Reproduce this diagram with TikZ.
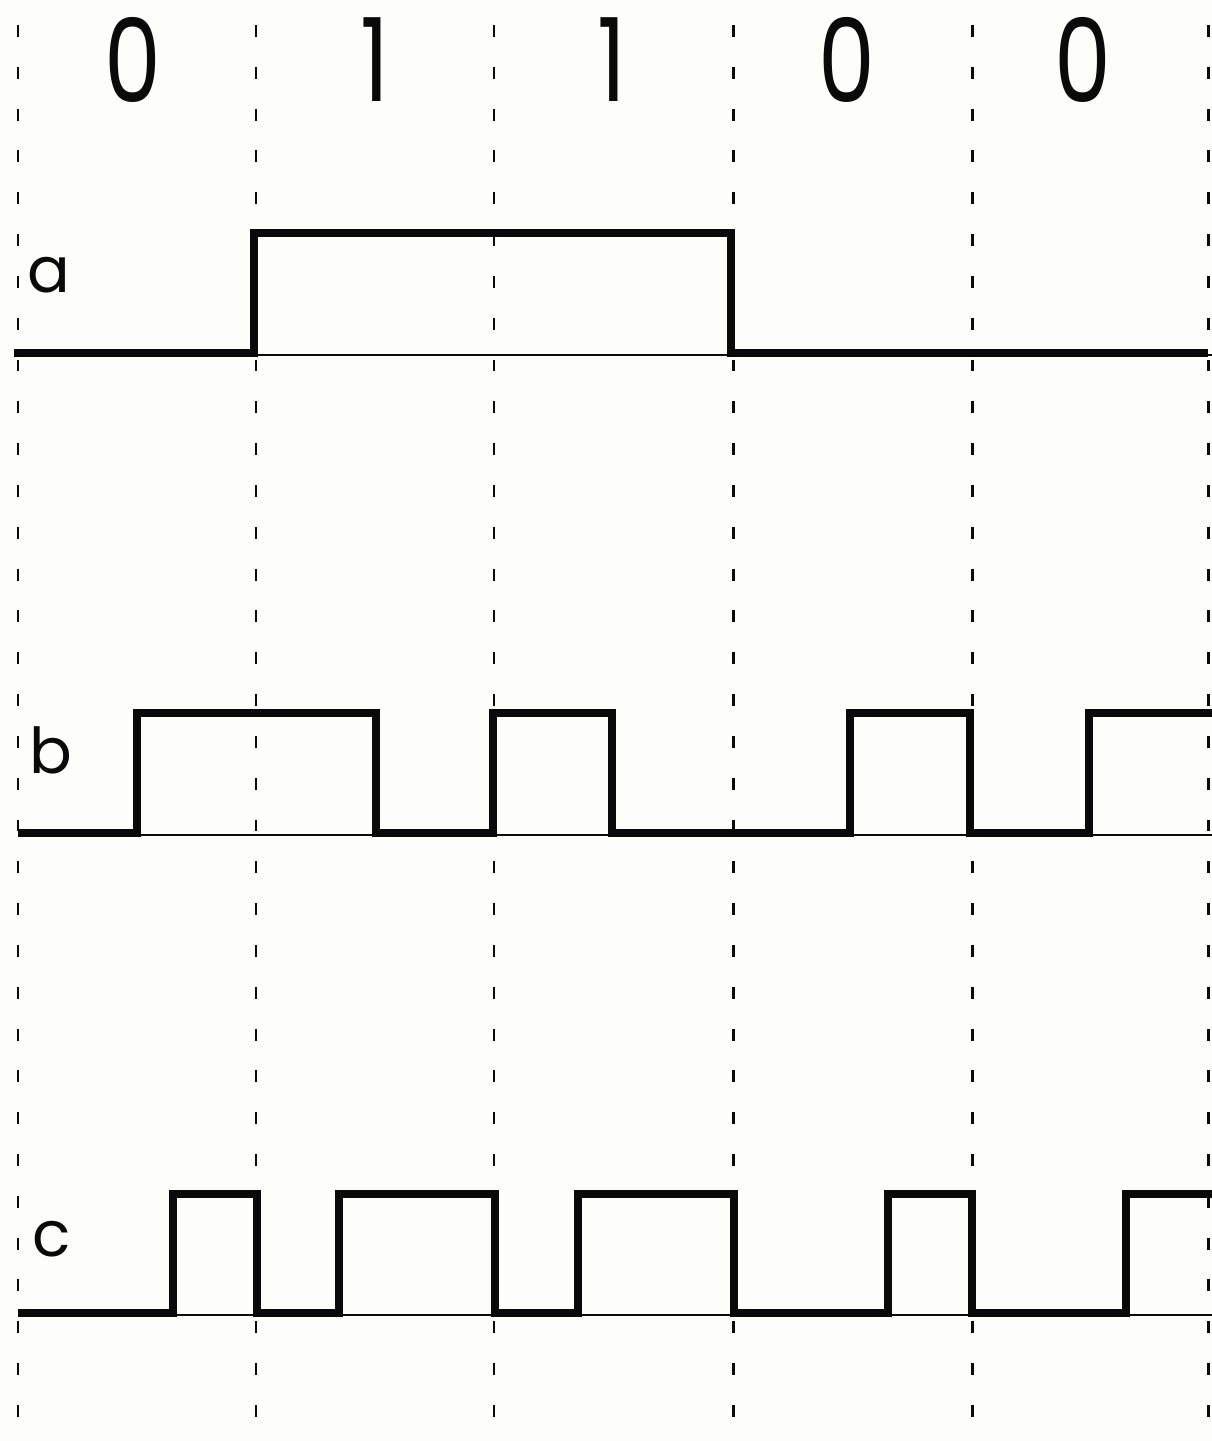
\documentclass[tikz,border=0pt]{standalone}
\usepackage{fontspec}
\setmainfont{Poppins}
\definecolor{bgcol}{RGB}{253,253,250}
\definecolor{ink}{RGB}{10,10,10}
\newcommand{\narrowdigit}[1]{\scalebox{0.78}[1]{#1}}
\begin{document}
\begin{tikzpicture}[x=0.02cm,y=-0.02cm,
  gridline/.style={ink, line width=1.7pt, dash pattern=on 6.8pt off 17pt},
  wave/.style={ink, line width=4.6pt, line join=miter},
  baseline/.style={ink, line width=1.1pt},
  digit/.style={font=\fontsize{66}{66}\selectfont, inner sep=0pt, text=ink},
  lbl/.style={font=\fontsize{36}{36}\selectfont, inner sep=0pt, text=ink}]
\fill[bgcol] (0,0) rectangle (1212,1441);
\useasboundingbox (0,0) rectangle (1212,1441);
% dashed bit boundaries
\foreach \gx/\gn in {18/g0,256/g1,494/g2,733/g3,972/g4,1208/g5}{
  \coordinate (\gn t) at (\gx,25);
  \coordinate (\gn b) at (\gx,1441);
  \draw[gridline] (\gn t) -- (\gn b);
}
% bit values
\node[digit] (d1) at (133,60) {\narrowdigit{0}};
\node[digit] (d2) at (375,60) {\narrowdigit{1}};
\node[digit] (d3) at (612,60) {\narrowdigit{1}};
\node[digit] (d4) at (847,60) {\narrowdigit{0}};
\node[digit] (d5) at (1083,60) {\narrowdigit{0}};
% labels
\node[lbl] (la) at (49,275) {a};
\node[lbl] (lb) at (51,750) {b};
\node[lbl] (lc) at (52,1239) {c};
% thin baselines
\draw[baseline] (18,355) -- (1212,355);
\draw[baseline] (18,835) -- (1212,835);
\draw[baseline] (18,1315) -- (1212,1315);
% waveform a
\draw[wave] (14,353) -- (254,353) -- (254,233) -- (731,233) -- (731,353) -- (1208,353);
% waveform b
\draw[wave] (18,833) -- (137,833) -- (137,713) -- (376,713) -- (376,833)
  -- (493,833) -- (493,713) -- (612,713) -- (612,833)
  -- (850,833) -- (850,713) -- (970,713) -- (970,833)
  -- (1089,833) -- (1089,713) -- (1212,713);
% waveform c
\draw[wave] (18,1313) -- (173,1313) -- (173,1194) -- (257,1194) -- (257,1313)
  -- (339,1313) -- (339,1194) -- (495,1194) -- (495,1313)
  -- (578,1313) -- (578,1194) -- (734,1194) -- (734,1313)
  -- (888,1313) -- (888,1194) -- (972,1194) -- (972,1313)
  -- (1126,1313) -- (1126,1194) -- (1212,1194);
\end{tikzpicture}
\end{document}
